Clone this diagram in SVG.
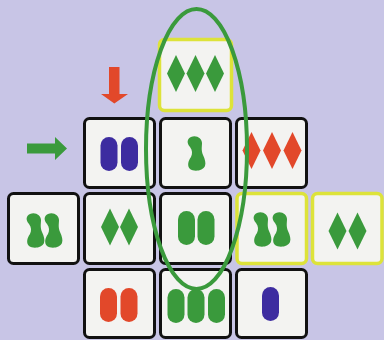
<svg xmlns="http://www.w3.org/2000/svg" width="384" height="340" viewBox="0 0 384 340">
<style>
.card{fill:#f3f3f1;stroke:#111;stroke-width:3}
.hl{fill:#f3f3f1;stroke:#dde33a;stroke-width:3.5}
.g{fill:#3a9a3c}
.r{fill:#e2482a}
.b{fill:#3d2ca0}
</style>
<defs>
<polygon id="dia" points="0,-18.5 9,0 0,18.5 -9,0"/>
<rect id="ov" x="-8.5" y="-17" width="17" height="34" rx="8.5"/>
<path id="sq" d="M -5,-16 C 0,-18.5 6,-15 6,-10 C 6,-6 5,-3 7,2 C 9,6 10,10 9,13 C 7,18 -2,19 -6,16 C -9,13 -8,8 -5,4 C -3.5,1 -3.5,-3 -6,-6 C -9.5,-10 -9,-14 -5,-16 Z"/>
</defs>
<rect width="384" height="340" fill="#c8c5e6"/>

<g id="card-top">
<rect class="hl" x="159.5" y="39.5" width="72" height="71" rx="5"/>
<use href="#dia" class="g" x="176" y="73.5"/>
<use href="#dia" class="g" x="195.5" y="73.5"/>
<use href="#dia" class="g" x="215" y="73.5"/>
</g>

<g id="card-r2c1">
<rect class="card" x="84.5" y="118.5" width="70" height="69" rx="5"/>
<use href="#ov" class="b" x="109" y="154"/>
<use href="#ov" class="b" x="129.5" y="154"/>
</g>
<g id="card-r2c2">
<rect class="card" x="160.5" y="118.5" width="70" height="69" rx="5"/>
<use href="#sq" class="g" x="196" y="153"/>
</g>
<g id="card-r2c3">
<rect class="card" x="236.5" y="118.5" width="70" height="69" rx="5"/>
<use href="#dia" class="r" x="251.5" y="150.5"/>
<use href="#dia" class="r" x="272" y="150.5"/>
<use href="#dia" class="r" x="292.5" y="150.5"/>
</g>

<g id="card-r3c0">
<rect class="card" x="8.5" y="193.5" width="70" height="70" rx="5"/>
<use href="#sq" class="g" x="35" y="230"/>
<use href="#sq" class="g" x="53" y="230"/>
</g>
<g id="card-r3c1">
<rect class="card" x="84.5" y="193.5" width="70" height="70" rx="5"/>
<use href="#dia" class="g" x="110" y="227"/>
<use href="#dia" class="g" x="129" y="227"/>
</g>
<g id="card-r3c2">
<rect class="card" x="160.5" y="193.5" width="70" height="70" rx="5"/>
<use href="#ov" class="g" x="186.5" y="228"/>
<use href="#ov" class="g" x="206" y="228"/>
</g>
<g id="card-r3c3">
<rect class="hl" x="237" y="193.5" width="69.5" height="70" rx="5"/>
<use href="#sq" class="g" x="262" y="229"/>
<use href="#sq" class="g" x="281" y="229"/>
</g>
<g id="card-r3c4">
<rect class="hl" x="312.5" y="193.5" width="69.5" height="70" rx="5"/>
<use href="#dia" class="g" x="337.5" y="231"/>
<use href="#dia" class="g" x="357.5" y="231"/>
</g>

<g id="card-r4c1">
<rect class="card" x="84.5" y="269.5" width="70" height="68" rx="5"/>
<use href="#ov" class="r" x="108.5" y="305"/>
<use href="#ov" class="r" x="129" y="305"/>
</g>
<g id="card-r4c2">
<rect class="card" x="160.5" y="269.5" width="70" height="68" rx="5"/>
<use href="#ov" class="g" x="176" y="306"/>
<use href="#ov" class="g" x="196" y="306"/>
<use href="#ov" class="g" x="216.5" y="306"/>
</g>
<g id="card-r4c3">
<rect class="card" x="236.5" y="269.5" width="70" height="68" rx="5"/>
<use href="#ov" class="b" x="270.5" y="304"/>
</g>

<g id="connectors">
<ellipse cx="196.5" cy="149" rx="50.5" ry="140" fill="none" stroke="#3a9a3c" stroke-width="4"/>
<path class="r" d="M109,67 H119.5 V94 H128 L114.3,103.5 L101,94 H109 Z"/>
<path class="g" d="M27,143.5 H55 V137 L67,148.5 L55,160 V153.5 H27 Z"/>
</g>
</svg>
